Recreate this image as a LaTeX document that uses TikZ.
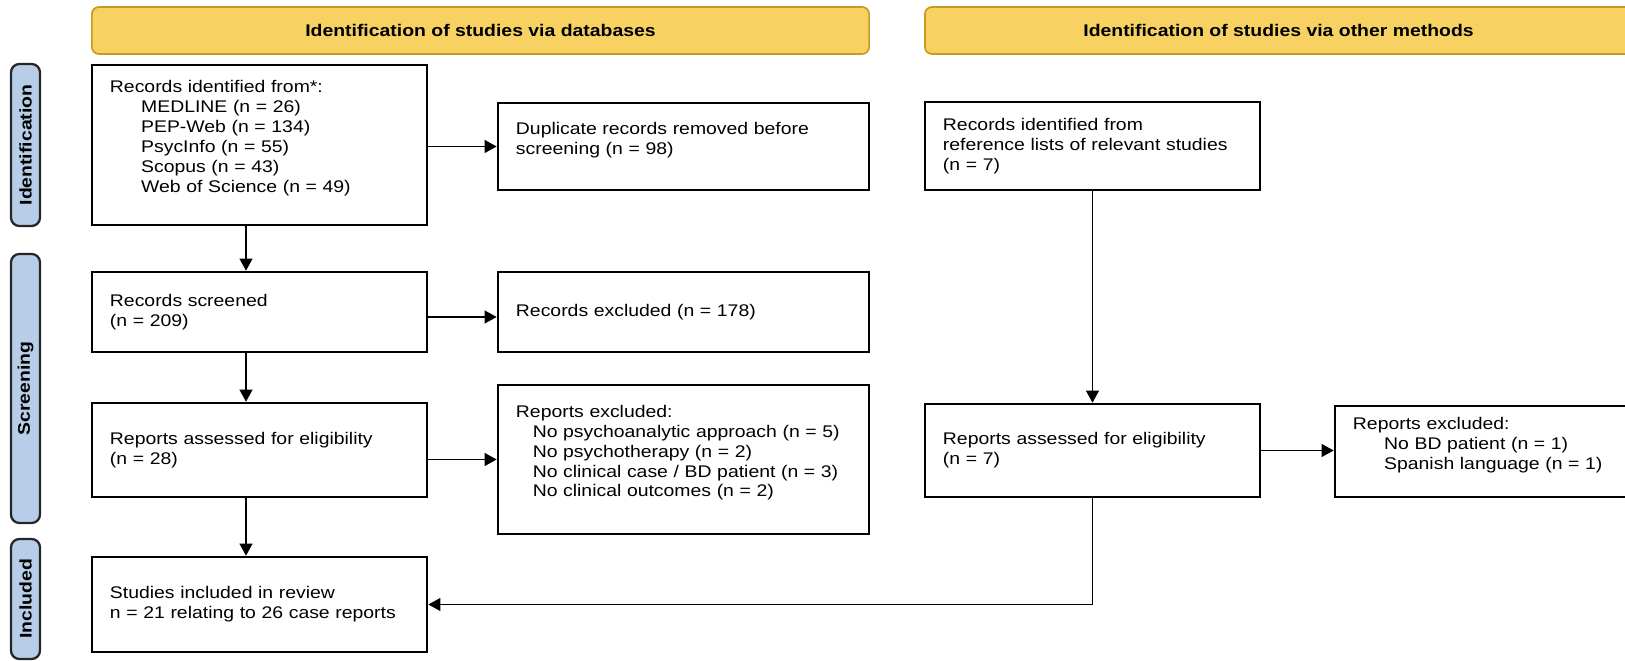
\documentclass[tikz,border=0pt]{standalone}
\usepackage{fontspec}
\setmainfont{Liberation Sans}[FakeStretch=1.15]
\usetikzlibrary{arrows.meta}

\definecolor{hdrfill}{HTML}{F7D263}
\definecolor{hdrline}{HTML}{C59B22}
\definecolor{phasefill}{HTML}{B7CDE8}
% empty last line, lifts the text a little
\newcommand{\liftup}{\\[-2pt]\mbox{}}

\begin{document}
\begin{tikzpicture}[x=0.025cm, y=-0.025cm,
	font=\fontsize{12}{14.2}\selectfont,
	box/.style={draw, line width=1.8pt, align=left, inner xsep=0.45cm, inner ysep=0pt},
	header/.style={draw=hdrline, fill=hdrfill, line width=1.2pt, rounded corners=5pt,
		font=\fontsize{12}{14}\selectfont\bfseries, minimum height=1.175cm},
	phase/.style={draw=black!85, fill=phasefill, line width=1.6pt, rounded corners=6pt,
		rotate=90, inner sep=0pt, minimum height=0.725cm,
		font=\fontsize{12}{14}\selectfont\bfseries},
	flow/.style={-{Triangle[length=0.3cm,width=0.32cm]}, line width=1pt}]
	\useasboundingbox (0,0) rectangle (1625,661);
	% headers and phases
	\node[header, minimum width=19.425cm] (hdrdb) at (480.5,30.5) {Identification of studies via databases};
	\node[header, minimum width=17.675cm] (hdrother) at (1278.5,30.5) {Identification of studies via other methods};
	\node[phase, minimum width=4.05cm] (phid) at (25.5,145) {Identification};
	\node[phase, minimum width=6.725cm] (phscr) at (25.5,388.5) {Screening};
	\node[phase, minimum width=3cm] (phinc) at (25.5,599) {Included};
	\coordinate (spine) at (246,0);
	% databases
	\node[box, text width=7.475cm, minimum height=4cm] (recdb) at (259.5,145) {Records identified from*:\\
		\hspace*{0.78cm}MEDLINE (n = 26)\\
		\hspace*{0.78cm}PEP-Web (n = 134)\\
		\hspace*{0.78cm}PsycInfo (n = 55)\\
		\hspace*{0.78cm}Scopus (n = 43)\\
		\hspace*{0.78cm}Web of Science (n = 49)\liftup};
	\node[box, text width=8.375cm, minimum height=2.175cm] (dupl) at (683.5,146.5) {Duplicate records removed before\\ screening (n = 98)\liftup};
	\node[box, text width=7.475cm, minimum height=2cm] (screen) at (259.5,312) {Records screened\\ (n = 209)};
	\node[box, text width=8.375cm, minimum height=2cm] (recexcl) at (683.5,312) {Records excluded (n = 178)};
	\node[box, text width=7.475cm, minimum height=2.35cm] (elig) at (259.5,450) {Reports assessed for eligibility\\ (n = 28)};
	\node[box, text width=8.375cm, minimum height=3.725cm] (repexcl) at (683.5,459.5) {Reports excluded:\\
		\hspace*{0.42cm}No psychoanalytic approach (n = 5)\\
		\hspace*{0.42cm}No psychotherapy (n = 2)\\
		\hspace*{0.42cm}No clinical case / BD patient (n = 3)\\
		\hspace*{0.42cm}No clinical outcomes (n = 2)\liftup};
	\node[box, text width=7.475cm, minimum height=2.375cm] (incl) at (259.5,604.5) {Studies included in review\\ n = 21 relating to 26 case reports};
	% other methods
	\node[box, text width=7.475cm, minimum height=2.2cm] (recother) at (1092.5,146) {Records identified from\\ reference lists of relevant studies\\ (n = 7)};
	\node[box, text width=7.475cm, minimum height=2.325cm] (eligother) at (1092.5,450.5) {Reports assessed for eligibility\\ (n = 7)};
	\node[box, text width=6.725cm, minimum height=2.275cm] (exclother) at (1487.5,451.5) {Reports excluded:\\
		\hspace*{0.78cm}No BD patient (n = 1)\\
		\hspace*{0.78cm}Spanish language (n = 1)\liftup};
	% arrows
	\draw[flow] (recdb.east |- dupl.west) to (dupl.west);
	\draw[flow] (recdb.south -| spine) to (screen.north -| spine);
	\draw[flow] ([yshift=-0.125cm]screen.east) to ([yshift=-0.125cm]recexcl.west);
	\draw[flow] (screen.south -| spine) to (elig.north -| spine);
	\draw[flow] (elig.east |- repexcl.west) to (repexcl.west);
	\draw[flow] (elig.south -| spine) to (incl.north -| spine);
	\draw[flow] (recother) to (eligother);
	\draw[flow] (eligother.east) to (eligother.east -| exclother.west);
	\draw[flow] (eligother.south) |- (incl.east);
\end{tikzpicture}
\end{document}
